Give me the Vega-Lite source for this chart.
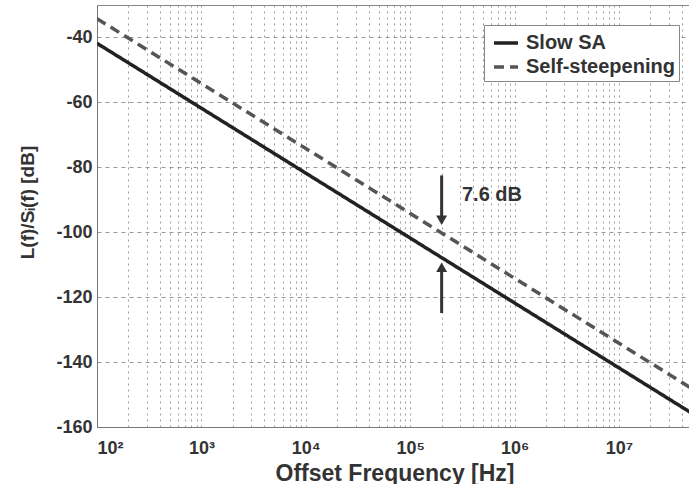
{
  "$schema": "https://vega.github.io/schema/vega-lite/v6.json",
  "width": 595,
  "height": 422,
  "autosize": {"type": "none"},
  "padding": {"left": 97, "top": 5, "right": 0, "bottom": 57},
  "background": "white",
  "config": {
    "font": "Liberation Sans",
    "view": {"stroke": "#888888", "strokeWidth": 1},
    "axis": {
      "labelFont": "Liberation Sans",
      "labelFontSize": 18,
      "labelFontWeight": "bold",
      "labelColor": "#333333",
      "titleFont": "Liberation Sans",
      "titleFontWeight": "bold",
      "titleColor": "#333333",
      "domainColor": "#777777",
      "ticks": false,
      "gridColor": "#9a9a9a",
      "gridDash": [2, 4],
      "gridWidth": 1
    }
  },
  "datasets": {
    "lines": [
      {"freq": 100, "level": -41.8, "series": "Slow SA"},
      {"freq": 1000, "level": -61.8, "series": "Slow SA"},
      {"freq": 10000, "level": -81.8, "series": "Slow SA"},
      {"freq": 100000, "level": -101.8, "series": "Slow SA"},
      {"freq": 1000000, "level": -121.8, "series": "Slow SA"},
      {"freq": 10000000, "level": -141.8, "series": "Slow SA"},
      {"freq": 50000000, "level": -155.8, "series": "Slow SA"},
      {"freq": 100, "level": -34.2, "series": "Self-steepening"},
      {"freq": 1000, "level": -54.2, "series": "Self-steepening"},
      {"freq": 10000, "level": -74.2, "series": "Self-steepening"},
      {"freq": 100000, "level": -94.2, "series": "Self-steepening"},
      {"freq": 1000000, "level": -114.2, "series": "Self-steepening"},
      {"freq": 10000000, "level": -134.2, "series": "Self-steepening"},
      {"freq": 50000000, "level": -148.2, "series": "Self-steepening"}
    ],
    "arrows": [
      {"freq": 200000, "from": -82.5, "to": -96.0},
      {"freq": 200000, "from": -124.9, "to": -111.0}
    ],
    "heads": [
      {"freq": 200000, "level": -96.3, "dir": "down"},
      {"freq": 200000, "level": -110.8, "dir": "up"}
    ],
    "notes": [
      {"freq": 313000, "level": -88.6, "label": "7.6 dB"}
    ]
  },
  "layer": [
    {
      "data": {"name": "lines"},
      "mark": {"type": "line", "strokeWidth": 3.5, "clip": true},
      "encoding": {
        "x": {
          "field": "freq",
          "type": "quantitative",
          "title": "Offset Frequency [Hz]",
          "scale": {"type": "log", "domain": [100, 50000000], "nice": false},
          "axis": {
            "values": [100, 200, 300, 400, 500, 600, 700, 800, 900,
                       1000, 2000, 3000, 4000, 5000, 6000, 7000, 8000, 9000,
                       10000, 20000, 30000, 40000, 50000, 60000, 70000, 80000, 90000,
                       100000, 200000, 300000, 400000, 500000, 600000, 700000, 800000, 900000,
                       1000000, 2000000, 3000000, 4000000, 5000000, 6000000, 7000000, 8000000, 9000000,
                       10000000, 20000000, 30000000, 40000000],
            "labelExpr": "datum.value == 100 ? '10²' : datum.value == 1000 ? '10³' : datum.value == 10000 ? '10⁴' : datum.value == 100000 ? '10⁵' : datum.value == 1000000 ? '10⁶' : datum.value == 10000000 ? '10⁷' : ''",
            "labelPadding": 12,
            "titleFontSize": 23,
            "titlePadding": 5,
            "labelOverlap": false
          }
        },
        "y": {
          "field": "level",
          "type": "quantitative",
          "title": "L(f)/Sᵢ(f) [dB]",
          "scale": {"domain": [-160, -30], "nice": false},
          "axis": {
            "values": [-160, -140, -120, -100, -80, -60, -40],
            "labelExpr": "'' + datum.value",
            "labelPadding": 5,
            "titleFontSize": 19,
            "titlePadding": 18,
            "titleY": 197,
            "gridDash": [4, 4]
          }
        },
        "color": {
          "field": "series",
          "type": "nominal",
          "scale": {"domain": ["Slow SA", "Self-steepening"], "range": ["#222222", "#555555"]},
          "legend": {
            "title": null,
            "orient": "none",
            "legendX": 387,
            "legendY": 20,
            "fillColor": "white",
            "strokeColor": "#888888",
            "padding": 4,
            "labelFont": "Liberation Sans",
            "labelFontSize": 20,
            "labelFontWeight": "bold",
            "labelColor": "#333333",
            "symbolType": "stroke",
            "symbolSize": 576,
            "symbolStrokeWidth": 3.5,
            "symbolOffset": 4,
            "rowPadding": 0,
            "labelOffset": 6
          }
        },
        "strokeDash": {
          "field": "series",
          "type": "nominal",
          "scale": {"domain": ["Slow SA", "Self-steepening"], "range": [[1, 0], [10, 6]]},
          "legend": {
            "title": null,
            "orient": "none",
            "legendX": 387,
            "legendY": 20,
            "fillColor": "white",
            "strokeColor": "#888888",
            "padding": 4,
            "labelFont": "Liberation Sans",
            "labelFontSize": 20,
            "labelFontWeight": "bold",
            "labelColor": "#333333",
            "symbolType": "stroke",
            "symbolSize": 576,
            "symbolStrokeWidth": 3.5,
            "symbolOffset": 4,
            "rowPadding": 0,
            "labelOffset": 6
          }
        }
      }
    },
    {
      "data": {"name": "arrows"},
      "mark": {"type": "rule", "strokeWidth": 3, "color": "#333333"},
      "encoding": {
        "x": {"field": "freq", "type": "quantitative", "title": "Offset Frequency [Hz]"},
        "y": {"field": "from", "type": "quantitative", "title": "L(f)/Sᵢ(f) [dB]"},
        "y2": {"field": "to"}
      }
    },
    {
      "data": {"name": "heads"},
      "mark": {"type": "point", "filled": true, "size": 120, "color": "#333333", "opacity": 1},
      "encoding": {
        "x": {"field": "freq", "type": "quantitative", "title": "Offset Frequency [Hz]"},
        "y": {"field": "level", "type": "quantitative", "title": "L(f)/Sᵢ(f) [dB]"},
        "shape": {
          "field": "dir",
          "type": "nominal",
          "scale": {"domain": ["down", "up"], "range": ["triangle-down", "triangle-up"]},
          "legend": null
        }
      }
    },
    {
      "data": {"name": "notes"},
      "mark": {"type": "text", "align": "left", "baseline": "middle", "font": "Liberation Sans", "fontSize": 20, "fontWeight": "bold", "color": "#333333"},
      "encoding": {
        "x": {"field": "freq", "type": "quantitative", "title": "Offset Frequency [Hz]"},
        "y": {"field": "level", "type": "quantitative", "title": "L(f)/Sᵢ(f) [dB]"},
        "text": {"field": "label"}
      }
    }
  ]
}
